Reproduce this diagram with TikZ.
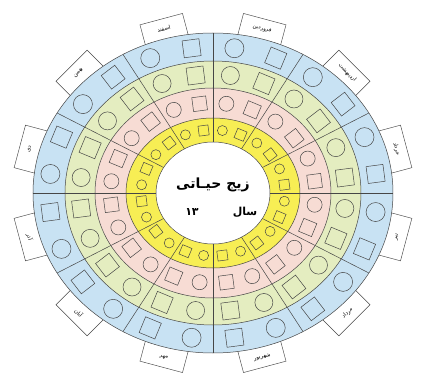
\documentclass[tikz,border=0pt]{standalone}
\usepackage{fontspec}
\newfontfamily\arabicfont[Script=Arabic]{DejaVu Sans}
\TeXXeTstate=1
\definecolor{ringblue}{RGB}{200,226,243}
\definecolor{ringgreen}{RGB}{228,237,192}
\definecolor{ringpink}{RGB}{247,220,212}
\definecolor{ringyellow}{RGB}{247,238,84}
\definecolor{inkline}{RGB}{70,70,70}
\begin{document}
\begin{tikzpicture}[x=1pt,y=1pt,
  ringline/.style={draw=inkline, line width=0.5pt},
  monthbox/.style={draw=inkline, fill=white, line width=0.45pt, minimum width=44, minimum height=32, inner sep=0pt},
  monthtext/.style={font=\arabicfont\fontsize{5.5}{6.5}\selectfont, inner sep=0pt},
  circ/.style={circle, draw=inkline, line width=0.5pt, inner sep=0pt},
  sq/.style={rectangle, draw=inkline, line width=0.5pt, inner sep=0pt}]
\useasboundingbox (-213,-190) rectangle (208,193);
\fill[white] (-213,-190) rectangle (208,193);
% month boxes
\foreach \t/\name [count=\i] in {75/فروردین, 45/اردیبهشت, 15/خرداد, -15/تیر, -45/مرداد, -75/شهریور, -105/مهر, -135/آبان, -165/آذر, 165/دی, 135/بهمن, 105/اسفند}{
  \pgfmathsetmacro\r{\t>0 ? \t-90 : \t+90}
  \node[monthbox, rotate=\r] (mb\i) at ({184*cos(\t)},{164*sin(\t)}) {};
  \node[monthtext, rotate=\r] (mt\i) at ({190*cos(\t)},{170*sin(\t)}) {\beginR\name\endR};
}
% rings
\filldraw[fill=ringblue, ringline] (0,0) ellipse [x radius=180, y radius=160];
\filldraw[fill=ringgreen, ringline] (0,0) ellipse [x radius=148, y radius=132];
\filldraw[fill=ringpink, ringline] (0,0) ellipse [x radius=118, y radius=105];
\filldraw[fill=ringyellow, ringline] (0,0) ellipse [x radius=87, y radius=75];
\filldraw[fill=white, ringline] (0,0) ellipse [x radius=57, y radius=51];
% radial dividers
\foreach \a in {0,30,...,330}{
  \draw[ringline] ({57*cos(\a)},{51*sin(\a)}) -- ({180*cos(\a)},{160*sin(\a)});
}
% shapes
\foreach \k in {0,...,23}{
  \pgfmathsetmacro\t{82.5-15*\k}
  \ifodd\k\relax
    \node[sq, minimum size=17, rotate=\t] (bs\k) at ({164*cos(\t)},{146*sin(\t)}) {};
    \node[sq, minimum size=17, rotate=\t] (gs\k) at ({133*cos(\t)},{118.5*sin(\t)}) {};
    \node[sq, minimum size=14, rotate=\t] (ps\k) at ({102.5*cos(\t)},{90*sin(\t)}) {};
    \node[sq, minimum size=10, rotate=\t] (ys\k) at ({72*cos(\t)},{63*sin(\t)}) {};
  \else
    \node[circ, minimum size=19] (bc\k) at ({164*cos(\t)},{146*sin(\t)}) {};
    \node[circ, minimum size=18] (gc\k) at ({133*cos(\t)},{118.5*sin(\t)}) {};
    \node[circ, minimum size=15] (pc\k) at ({102.5*cos(\t)},{90*sin(\t)}) {};
    \node[circ, minimum size=10] (yc\k) at ({72*cos(\t)},{63*sin(\t)}) {};
  \fi
}
% centre texts
\node[font=\arabicfont\bfseries\fontsize{14}{16}\selectfont] (title) at (0,8) {\beginR زیج حیـاتی\endR};
\node[font=\arabicfont\bfseries\fontsize{11}{13}\selectfont] (year) at (32,-19) {\beginR سال\endR};
\node[font=\arabicfont\bfseries\fontsize{11}{13}\selectfont] (num) at (-21,-19) {۱۳};
\end{tikzpicture}
\end{document}
